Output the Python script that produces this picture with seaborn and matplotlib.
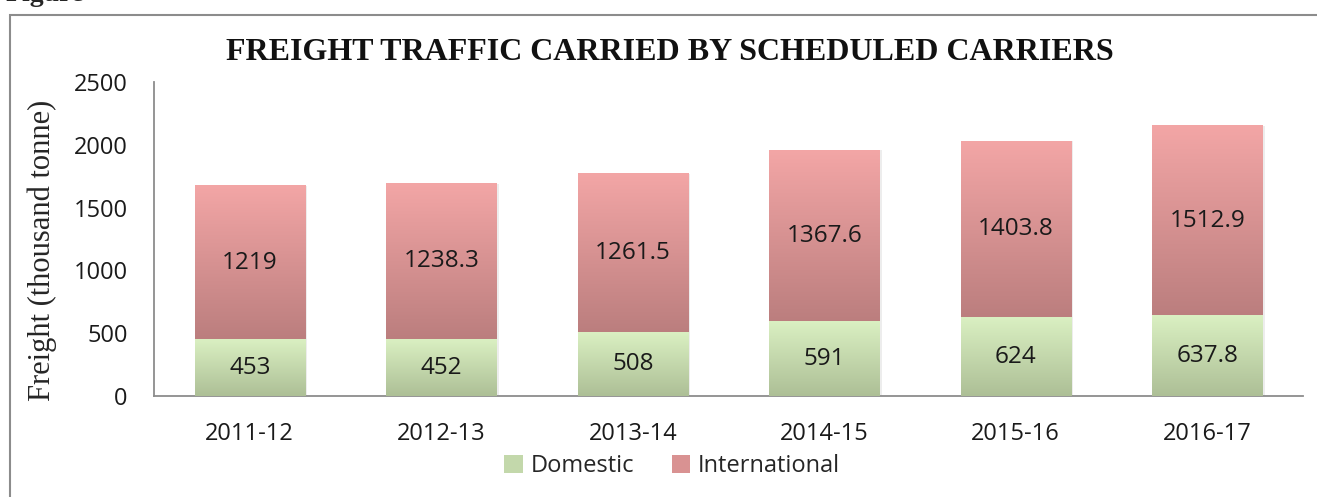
import numpy as np
import pandas as pd
import matplotlib
matplotlib.use("Agg")
import matplotlib.pyplot as plt
from matplotlib.colors import LinearSegmentedColormap
from matplotlib.patches import Rectangle, Patch
import seaborn as sns

# data
years = ["2011-12", "2012-13", "2013-14", "2014-15", "2015-16", "2016-17"]
domestic = [453, 452, 508, 591, 624, 637.8]
international = [1219, 1238.3, 1261.5, 1367.6, 1403.8, 1512.9]
dom_labels = ["453", "452", "508", "591", "624", "637.8"]
intl_labels = ["1219", "1238.3", "1261.5", "1367.6", "1403.8", "1512.9"]

# gradient colours (top, bottom)
DOM_TOP, DOM_BOT = "#DAF0C2", "#ADBF96"
INT_TOP, INT_BOT = "#F3A6A6", "#BB7E7E"
AXIS_GRAY = "#8C8C8C"
SERIF = ["Liberation Serif", "DejaVu Serif"]

sns.set_theme(style="white")
plt.rcParams["font.family"] = ["Open Sans", "DejaVu Sans"]

df = pd.DataFrame({"Year": years, "Domestic": domestic, "International": international})
df["Total"] = df["Domestic"] + df["International"]

fig = plt.figure(figsize=(13.17, 4.97), dpi=100)
ax = fig.add_axes([154 / 1317, 1 - 396 / 497, 1149 / 1317, 314 / 497])

# stacked bars: total first, domestic on top
sns.barplot(data=df, x="Year", y="Total", color=INT_TOP, width=0.575,
            ax=ax, saturation=1, linewidth=0, zorder=2)
n_int = len(ax.patches)
sns.barplot(data=df, x="Year", y="Domestic", color=DOM_TOP, width=0.575,
            ax=ax, saturation=1, linewidth=0, zorder=3)

int_cmap = LinearSegmentedColormap.from_list("intl", [INT_BOT, INT_TOP])
dom_cmap = LinearSegmentedColormap.from_list("dom", [DOM_BOT, DOM_TOP])
grad = np.linspace(0, 1, 256).reshape(-1, 1)

int_patches = ax.patches[:n_int]
dom_patches = ax.patches[n_int:]
for pi, pd_ in zip(int_patches, dom_patches):
    x0, w = pi.get_x(), pi.get_width()
    top, mid = pi.get_height(), pd_.get_height()
    # soft shadow on the right
    ax.add_patch(Rectangle((x0 + 0.012, 0), w, top, color="#000000", alpha=0.07,
                           lw=0, zorder=1))
    ax.imshow(grad, cmap=int_cmap, extent=[x0, x0 + w, mid, top], origin="lower",
              aspect="auto", zorder=2.5, interpolation="bicubic")
    ax.imshow(grad, cmap=dom_cmap, extent=[x0, x0 + w, 0, mid], origin="lower",
              aspect="auto", zorder=3.5, interpolation="bicubic")

for i, (d, t) in enumerate(zip(domestic, international)):
    ax.text(i, d / 2, dom_labels[i], ha="center", va="center", fontsize=17.5,
            color="#1a1a1a", zorder=5)
    ax.text(i, d + t / 2, intl_labels[i], ha="center", va="center", fontsize=17.5,
            color="#1a1a1a", zorder=5)

ax.set_xlim(-0.5, len(years) - 0.5)
ax.set_ylim(0, 2500)
ax.set_yticks(range(0, 2501, 500))
ax.tick_params(axis="both", labelsize=17, length=0, colors="#1a1a1a")
ax.tick_params(axis="y", pad=19)
ax.tick_params(axis="x", pad=19)
ax.set_xlabel("")
ax.set_ylabel("Freight (thousand tonne)", family=SERIF, fontsize=22, labelpad=12)
ax.yaxis.label.set_y(0.465)
for s in ["top", "right"]:
    ax.spines[s].set_visible(False)
for s in ["left", "bottom"]:
    ax.spines[s].set_color(AXIS_GRAY)
    ax.spines[s].set_linewidth(1.3)

fig.text(670 / 1317, 1 - 53 / 497, "FREIGHT TRAFFIC CARRIED BY SCHEDULED CARRIERS",
         ha="center", va="center", fontsize=23, fontweight="bold",
         family=SERIF, color="#111111")

handles = [Patch(facecolor="#C3D8AB", edgecolor="none", label="Domestic"),
           Patch(facecolor="#D99292", edgecolor="none", label="International")]
fig.legend(handles=handles, loc="center", bbox_to_anchor=(672 / 1317, 1 - 466 / 497),
           ncol=2, frameon=False, fontsize=17, handlelength=0.8, handleheight=0.8,
           handletextpad=0.3, columnspacing=1.6)

# outer frame around the chart
fig.patches.append(Rectangle((10 / 1317, -0.05), 1.1, 1 - 15 / 497 + 0.05,
                             transform=fig.transFigure, fill=False,
                             edgecolor=AXIS_GRAY, lw=1.5, zorder=0))
# caption of the page, mostly cut off at the top edge as in the reference
fig.text(6 / 1317, 1 - 1 / 497, "Figure", fontsize=20, fontweight="bold",
         family=SERIF, va="baseline")

fig.savefig("out.png", dpi=100)
